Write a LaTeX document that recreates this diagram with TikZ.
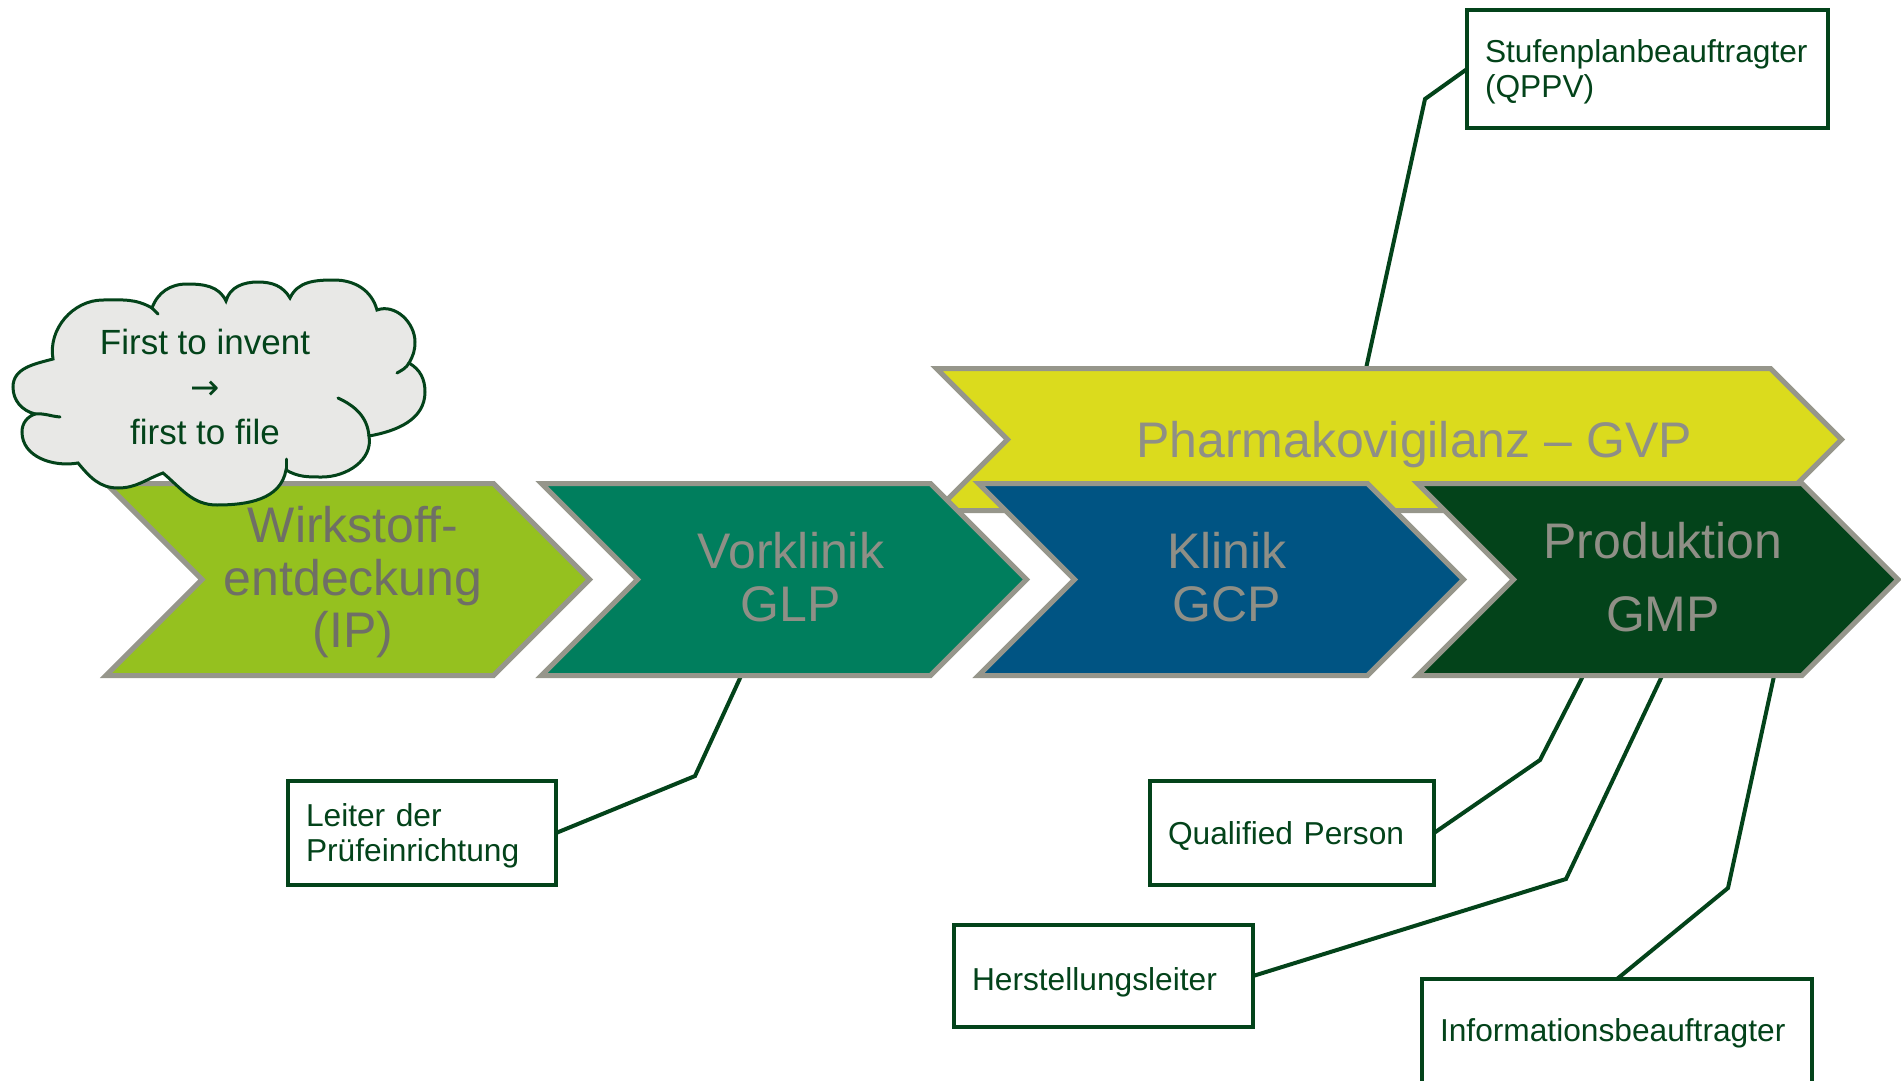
\documentclass[tikz,border=0pt]{standalone}
\usepackage{fontspec}
\setmainfont{Liberation Sans}
\newfontfamily\arrowfont{DejaVu Sans}
\usetikzlibrary{shapes.symbols}
\hyphenpenalty=10000
\exhyphenpenalty=10000

\definecolor{dkgreen}{HTML}{03431A}
\definecolor{limegreen}{HTML}{95C11F}
\definecolor{tealgreen}{HTML}{007E5D}
\definecolor{petrol}{HTML}{005483}
\definecolor{gvpyellow}{HTML}{DBDB1D}
\definecolor{rimgray}{HTML}{96968B}
\definecolor{labelgray}{HTML}{8F8F86}
\definecolor{darklabel}{HTML}{6F6F66}
\definecolor{cloudfill}{HTML}{E8E8E6}

\pgfdeclarelayer{back}
\pgfsetlayers{back,main}

\tikzset{
  phase/.style={signal, signal to=east, signal from=west, signal pointer angle=90,
    draw=rimgray, line width=5pt, inner sep=0pt, outer sep=0pt, minimum height=192pt},
  phasetext/.style={text=labelgray, align=center, inner sep=0pt,
    font=\fontsize{50pt}{52.5pt}\selectfont},
  rolebox/.style={draw=dkgreen, line width=4pt, fill=white, text=dkgreen,
    align=left, inner xsep=18pt, inner ysep=0pt, outer sep=0pt,
    font=\fontsize{31.7pt}{35.5pt}\selectfont,
    execute at begin node={\rule{0pt}{28.5pt}}},
  leader/.style={draw=dkgreen, line width=4pt},
  cloudline/.style={draw=dkgreen, line width=3pt, line cap=round}
}

\begin{document}
\begin{tikzpicture}[x=1pt,y=1pt]
\useasboundingbox (0,0) rectangle (1901,-1081);

% Pharmakovigilanz band behind the phase chevrons
\node[phase, fill=gvpyellow, minimum width=905pt, minimum height=142pt] (gvp) at (1389,-439.5) {};
\node[phasetext] (gvpT) at (1414,-445) {Pharmakovigilanz – GVP};

% phase chevrons
\node[phase, fill=limegreen, minimum width=483.5pt] (ip)  at (347.75,-579.5) {};
\node[phase, fill=tealgreen, minimum width=485pt]   (glp) at (784,-579.5) {};
\node[phase, fill=petrol,    minimum width=485pt]   (gcp) at (1221,-579.5) {};
\node[phase, fill=dkgreen,   minimum width=480.5pt] (gmp) at (1657.75,-579.5) {};

\node[phasetext, text=darklabel] (ipT) at (353,-582.5) {Wirkstoff-\\entdeckung\\(IP)};
\node[phasetext] (glpT) at (791,-577) {Vorklinik\\GLP};
\node[phasetext] (gcpT) at (1227,-577) {Klinik\\GCP};
\node[phasetext, font=\fontsize{50pt}{73pt}\selectfont] (gmpT) at (1663,-576.75) {Produktion\\GMP};

% cloud: first to invent -> first to file
\path[cloudline, fill=cloudfill]
  (53,-359) to[out=100,in=180] (103,-300) to[out=0,in=150] (152,-308)
  to[out=70,in=180] (187,-284) to[out=0,in=115] (226,-301)
  to[out=75,in=180] (258,-282) to[out=0,in=120] (290,-298)
  to[out=65,in=180] (334,-280) to[out=0,in=105] (377,-310)
  to[out=20,in=90] (415,-342) to[out=-90,in=60] (409,-363)
  to[out=-30,in=90] (425,-392) to[out=-90,in=10] (369,-436)
  to[out=-80,in=0] (322,-477) to[out=180,in=-30] (286,-470)
  to[out=-100,in=0] (217,-505) to[out=180,in=-40] (163,-473)
  to[out=-160,in=0] (118,-488) to[out=180,in=-50] (78,-463)
  to[out=-170,in=-90] (22,-432) to[out=90,in=-160] (35,-414)
  to[out=165,in=-90] (13,-387) to[out=90,in=-165] cycle;
\draw[cloudline] (152,-308) to[out=-40,in=130] (158,-314);
\draw[cloudline] (409,-363) to[out=-120,in=30] (397,-373);
\draw[cloudline] (338,-398) to[out=-25,in=95] (369,-436);
\draw[cloudline] (286,-459) -- (286,-470);
\draw[cloudline] (35,-414) to[out=5,in=175] (60,-417);
\node[text=dkgreen, align=center, inner sep=0pt, font=\fontsize{35pt}{45pt}\selectfont]
  (patent) at (205,-387.25) {First to invent\\{\arrowfont →}\\first to file};

% role boxes
\node[rolebox, minimum width=361pt, text width=325pt, minimum height=118pt] (stufen) at (1647.5,-69)
  {Stufenplanbeauftragter\\(QPPV)};
\node[rolebox, minimum width=268pt, text width=232pt, minimum height=104pt] (leiter) at (422,-833)
  {Leiter der\\Prüfeinrichtung};
\node[rolebox, minimum width=284pt, text width=248pt, minimum height=104pt] (qp) at (1292,-833)
  {Qualified Person};
\node[rolebox, minimum width=299pt, text width=263pt, minimum height=102pt, text depth=0pt] (herst) at (1103.5,-976)
  {Herstellungsleiter};
\node[rolebox, minimum width=390pt, text width=354pt, minimum height=104pt] (info) at (1617,-1031)
  {Informationsbeauftragter};

% leader lines, tucked under shapes and boxes
\coordinate (stufenBend) at (1425,-99);
\coordinate (gvpTop) at (1366,-368.5);
\coordinate (leiterBend) at (695,-776);
\coordinate (glpFoot) at (741,-676);
\coordinate (qpBend) at (1540,-760);
\coordinate (gmpFootA) at (1583,-676);
\coordinate (herstBend) at (1566,-879);
\coordinate (gmpFootB) at (1662,-676);
\coordinate (infoBend) at (1728,-888);
\coordinate (gmpFootC) at (1774,-676);

\begin{pgfonlayer}{back}
  \draw[leader] (stufen.west) -- (stufenBend) -- (gvpTop);
  \draw[leader] (leiter.east) -- (leiterBend) -- (glpFoot);
  \draw[leader] (qp.east) -- (qpBend) -- (gmpFootA);
  \draw[leader] (herst.east) -- (herstBend) -- (gmpFootB);
  \draw[leader] (info.north) -- (infoBend) -- (gmpFootC);
\end{pgfonlayer}
\end{tikzpicture}
\end{document}
